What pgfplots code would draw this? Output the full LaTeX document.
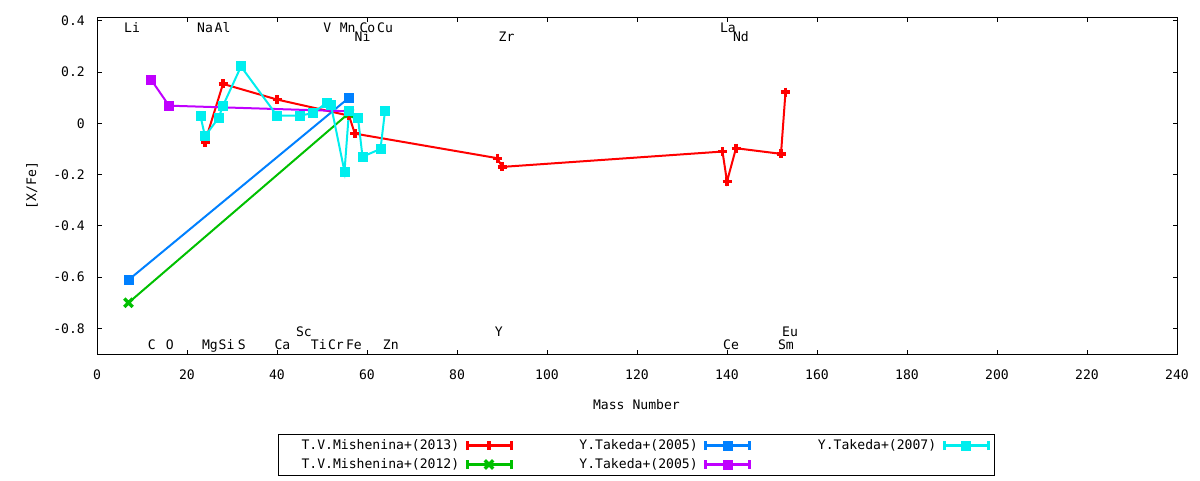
\documentclass[border=0pt]{standalone}
\usepackage{fontspec}
\setmainfont{DejaVu Sans Mono}
\usepackage{pgfplots}
\pgfplotsset{compat=1.18}
\definecolor{gred}{HTML}{FF0000}
\definecolor{ggreen}{HTML}{00C000}
\definecolor{gblue}{HTML}{0080FF}
\definecolor{gviolet}{HTML}{C000FF}
\definecolor{gcyan}{HTML}{00EEEE}
\newcommand{\gfont}{\fontsize{13.1}{15}\selectfont}
\tikzset{
  redp/.style={color=gred, line width=2pt, mark=+, mark size=4.5pt, mark options={line width=3.4pt, solid}},
  greenp/.style={color=ggreen, line width=2pt, mark=x, mark size=6pt, mark options={line width=3.2pt, solid}},
  bluep/.style={color=gblue, line width=2pt, mark=square*, mark size=4.5pt, mark options={line width=1pt, solid}},
  violetp/.style={color=gviolet, line width=2pt, mark=square*, mark size=4.5pt, mark options={line width=1pt, solid}},
  cyanp/.style={color=gcyan, line width=2pt, mark=square*, mark size=4.5pt, mark options={line width=1pt, solid}},
  lab/.style={font=\gfont, inner sep=0pt, anchor=base, text=black},
}
\begin{document}
\gfont
\begin{tikzpicture}
\path[use as bounding box] (0,0) rectangle (1200pt,480pt);
\begin{axis}[
  scale only axis, width=1080pt, height=337pt,
  at={(97pt,126pt)}, anchor=south west,
  xmin=0, xmax=240, ymin=-0.9, ymax=0.415,
  xtick={0,20,...,240},
  xticklabels={0,20,40,60,80,100,120,140,160,180,200,220,240},
  ytick={-0.8,-0.6,-0.4,-0.2,0,0.2,0.4},
  yticklabels={-0.8,-0.6,-0.4,-0.2,0,0.2,0.4},
  axis line style={line width=1pt},
  tick style={line width=1pt, black},
  major tick length=4.5pt,
  minor tick num=0,
  tick label style={font=\gfont},
  xticklabel style={inner sep=0pt, anchor=north, text height=9.55pt, text depth=0pt, yshift=-16pt},
  yticklabel style={inner sep=0pt, anchor=east, xshift=-12pt},
  xlabel={Mass Number}, ylabel={[X/Fe]},
  label style={font=\gfont, inner sep=0pt},
  xlabel style={at={(axis description cs:0.4995,-0.1513)}, anchor=center},
  ylabel style={at={(axis description cs:-0.0602,0.5)}, anchor=center},
  legend columns=3, legend plot pos=right, legend cell align=right,
  legend style={at={(0.49954,-0.2997)}, anchor=center, draw=black, line width=1pt,
    inner xsep=5pt, inner ysep=4pt, font=\gfont, row sep=6pt,
    nodes={inner sep=0pt, text height=10pt, text depth=3pt, text width=176pt, align=right},
    /tikz/every odd column/.append style={column sep=6pt},
    /tikz/every even column/.append style={column sep=9pt}},
  legend image code/.code={
    \draw[#1, mark=none, line width=3.5pt] (0pt,0pt) -- (44pt,0pt);
    \draw[#1, mark=none, line width=3pt] (0pt,-4.5pt) -- (0pt,4.5pt) (44pt,-4.5pt) -- (44pt,4.5pt);
    \draw[#1, only marks] plot coordinates {(22pt,0pt)};
  },
]
\addlegendimage{redp}\addlegendentry{T.V.Mishenina+(2013)}
\addlegendimage{bluep}\addlegendentry{Y.Takeda+(2005)}
\addlegendimage{cyanp}\addlegendentry{Y.Takeda+(2007)}
\addlegendimage{greenp}\addlegendentry{T.V.Mishenina+(2012)}
\addlegendimage{violetp}\addlegendentry{Y.Takeda+(2005)}

% T.V.Mishenina+(2013)
\addplot[redp, forget plot] coordinates {
 (24,-0.073) (28,0.154) (40,0.093) (56,0.03) (57.3,-0.04)
 (89,-0.136) (90,-0.170) (139,-0.110) (140,-0.227) (142,-0.097)
 (152,-0.119) (153,0.122)};
% T.V.Mishenina+(2012)
\addplot[greenp, forget plot] coordinates {(7,-0.70) (56,0.04)};
% Y.Takeda+(2005) blue
\addplot[bluep, forget plot] coordinates {(7,-0.611) (56,0.10)};
% Y.Takeda+(2005) violet
\addplot[violetp, forget plot] coordinates {(12,0.171) (16,0.069) (56,0.047)};
% Y.Takeda+(2007)
\addplot[cyanp, forget plot] coordinates {
 (23,0.028) (24,-0.050) (27,0.021) (28,0.069) (32,0.222) (40,0.030)
 (45,0.030) (48,0.040) (51,0.080) (52,0.070) (55,-0.188) (56,0.048)
 (58,0.021) (59,-0.130) (63,-0.100) (64,0.048)};

% element labels
\node[lab] at (axis cs:7.8,0.355) {Li};
\node[lab] at (axis cs:24.0,0.355) {Na};
\node[lab] at (axis cs:27.9,0.355) {Al};
\node[lab] at (axis cs:51.2,0.355) {V};
\node[lab] at (axis cs:55.7,0.355) {Mn};
\node[lab] at (axis cs:60.1,0.355) {Co};
\node[lab] at (axis cs:64.0,0.355) {Cu};
\node[lab] at (axis cs:140.2,0.355) {La};
\node[lab] at (axis cs:59.0,0.319) {Ni};
\node[lab] at (axis cs:91.0,0.319) {Zr};
\node[lab] at (axis cs:143.1,0.319) {Nd};
\node[lab] at (axis cs:12.2,-0.883) {C};
\node[lab] at (axis cs:16.2,-0.883) {O};
\node[lab] at (axis cs:25.1,-0.883) {Mg};
\node[lab] at (axis cs:28.8,-0.883) {Si};
\node[lab] at (axis cs:32.2,-0.883) {S};
\node[lab] at (axis cs:41.2,-0.883) {Ca};
\node[lab] at (axis cs:49.3,-0.883) {Ti};
\node[lab] at (axis cs:53.1,-0.883) {Cr};
\node[lab] at (axis cs:57.1,-0.883) {Fe};
\node[lab] at (axis cs:65.3,-0.883) {Zn};
\node[lab] at (axis cs:140.9,-0.883) {Ce};
\node[lab] at (axis cs:153.1,-0.883) {Sm};
\node[lab] at (axis cs:46.0,-0.832) {Sc};
\node[lab] at (axis cs:89.3,-0.832) {Y};
\node[lab] at (axis cs:154.0,-0.832) {Eu};
\end{axis}
\end{tikzpicture}
\end{document}
